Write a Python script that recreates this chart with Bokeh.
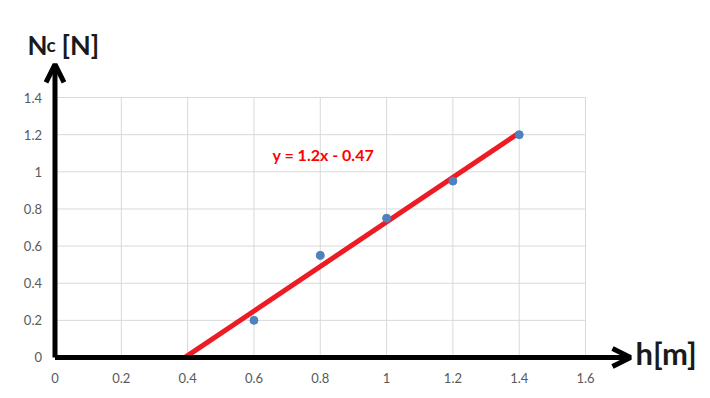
from bokeh.plotting import figure
from bokeh.models import Range1d, Arrow, OpenHead, Label
from bokeh.embed import file_html
from bokeh.resources import INLINE
from bokeh.core.properties import value

# data
h_vals = [0.6, 0.8, 1.0, 1.2, 1.4]
nc_vals = [0.2, 0.55, 0.75, 0.95, 1.2]
slope = 1.2
intercept = -0.47
trend_x = [0.392, 1.4]
trend_y = [slope * x + intercept for x in trend_x]
x_ticks = [0, 0.2, 0.4, 0.6, 0.8, 1.0, 1.2, 1.4, 1.6]
x_labels = ["0", "0.2", "0.4", "0.6", "0.8", "1", "1.2", "1.4", "1.6"]
y_ticks = [0, 0.2, 0.4, 0.6, 0.8, 1.0, 1.2, 1.4]
y_labels = ["0", "0.2", "0.4", "0.6", "0.8", "1", "1.2", "1.4"]
equation = "y = 1.2x - 0.47"
arrow_x_end = 1.7355
arrow_y_end = 1.578

FONT = "Lato"

p = figure(width=700, height=390, output_backend="svg", toolbar_location=None,
           x_range=Range1d(-0.16435, 1.94662), y_range=Range1d(-0.17771, 1.92246),
           x_axis_location=None, y_axis_location=None,
           min_border=0)
p.outline_line_color = None
p.xgrid.visible = False
p.ygrid.visible = False
p.background_fill_color = "white"

# gridlines limited to the plot area
p.segment(x0=x_ticks, y0=[y_ticks[0]] * len(x_ticks), x1=x_ticks, y1=[y_ticks[-1]] * len(x_ticks),
          line_color="#d9d9d9", line_width=1)
p.segment(x0=[x_ticks[0]] * len(y_ticks), y0=y_ticks, x1=[x_ticks[-1]] * len(y_ticks), y1=y_ticks,
          line_color="#d9d9d9", line_width=1)

# tick labels
p.text(x=x_ticks, y=[y_ticks[0]] * len(x_ticks), text=x_labels, y_offset=21,
       text_align="center", text_baseline="middle", text_font=value(FONT),
       text_font_size="13px", text_color="#595959")
p.text(x=[x_ticks[0]] * len(y_ticks), y=y_ticks, text=y_labels, x_offset=-13,
       text_align="right", text_baseline="middle", text_font=value(FONT),
       text_font_size="13px", text_color="#595959")

# trendline and points
p.line(trend_x, trend_y, line_color="#ED1C24", line_width=5)
p.scatter(h_vals, nc_vals, size=8, fill_color="#4F81BD", line_color="#4F81BD")

# axis arrows
p.add_layout(Arrow(end=OpenHead(size=18, line_width=5, line_color="black"),
                   x_start=0, y_start=0, x_end=0, y_end=arrow_y_end,
                   line_width=5, line_color="black"))
p.add_layout(Arrow(end=OpenHead(size=18, line_width=5, line_color="black"),
                   x_start=0, y_start=0, x_end=arrow_x_end, y_end=0,
                   line_width=5, line_color="black"))

p.add_layout(Label(x=0.656, y=1.093, text=equation, text_font=FONT, text_font_size="16px",
                   text_font_style="bold", text_color="#FF0000", text_baseline="middle"))

for txt, cx, cy, fs in (("N", 27, 44, "26px"), ("c", 46, 44, "19px"), ("[N]", 61, 44, "27px"),
                        ("h[m]", 635, 352, "31px")):
    p.add_layout(Label(x=cx, y=cy, x_units="canvas", y_units="canvas", text=txt, text_font=FONT,
                       text_font_size=fs, text_font_style="bold", text_color="#1a1a1a",
                       text_baseline="alphabetic"))

open("out.html", "w").write(file_html(p, INLINE))
